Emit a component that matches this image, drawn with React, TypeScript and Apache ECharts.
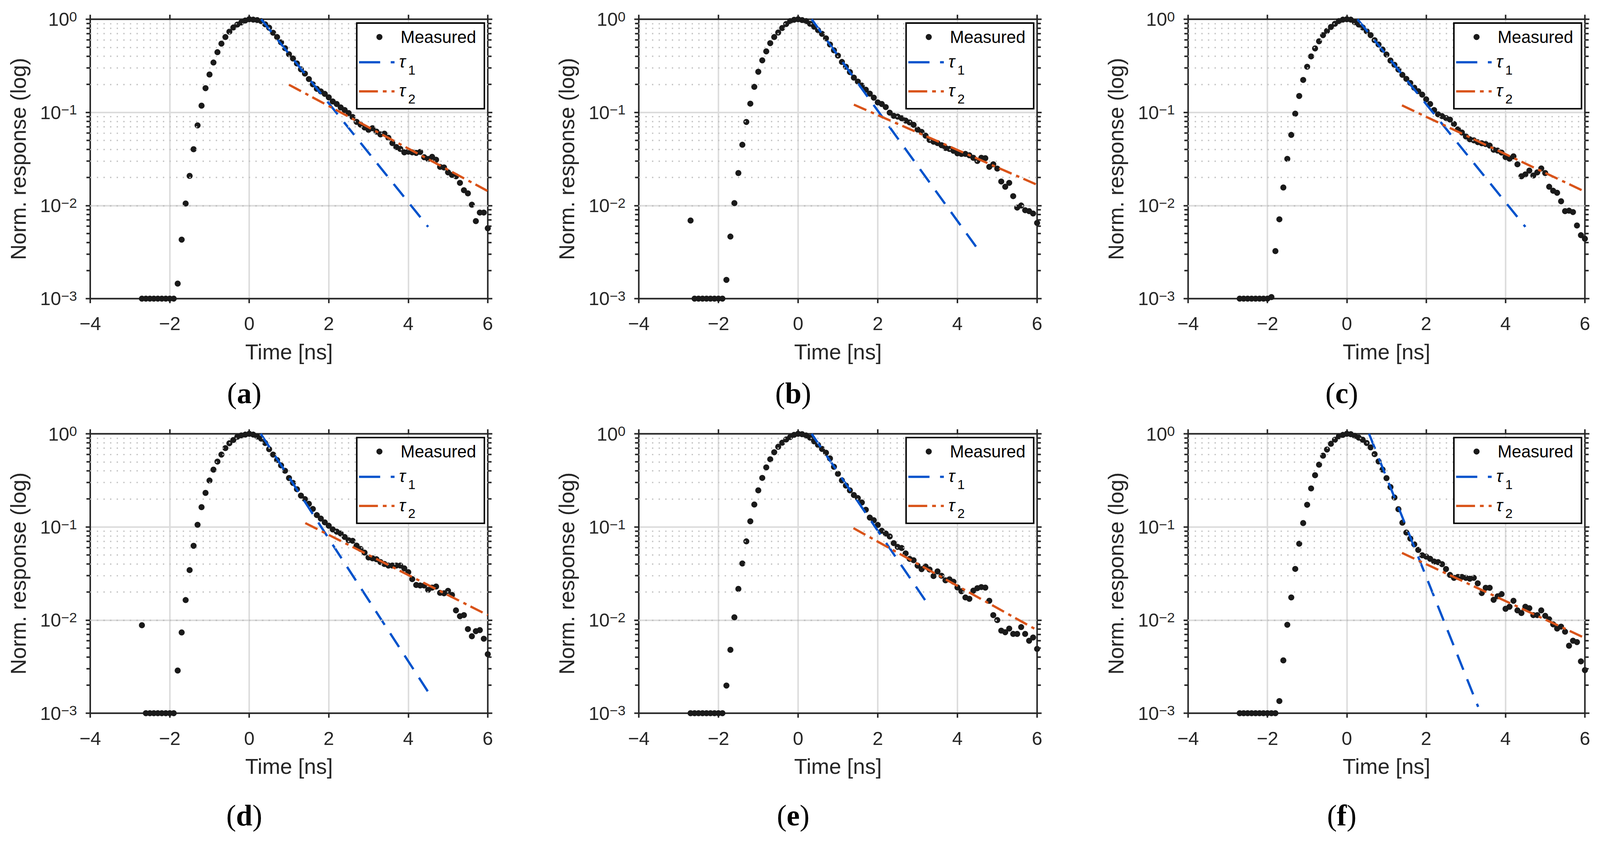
import React, { useEffect, useRef } from "react";
import * as echarts from "echarts";

// ---------- data ----------
const TIME = [-2.7,-2.6,-2.5,-2.4,-2.3,-2.2,-2.1,-2.0,-1.9,-1.8,-1.7,-1.6,-1.5,-1.4,-1.3,-1.2,-1.1,-1.0,-0.9,-0.8,-0.7,-0.6,-0.5,-0.4,-0.3,-0.2,-0.1,0.0,0.1,0.2,0.3,0.4,0.5,0.6,0.7,0.8,0.9,1.0,1.1,1.2,1.3,1.4,1.5,1.6,1.7,1.8,1.9,2.0,2.1,2.2,2.3,2.4,2.5,2.6,2.7,2.8,2.9,3.0,3.1,3.2,3.3,3.4,3.5,3.6,3.7,3.8,3.9,4.0,4.1,4.2,4.3,4.4,4.5,4.6,4.7,4.8,4.9,5.0,5.1,5.2,5.3,5.4,5.5,5.6,5.7,5.8,5.9,6.0];

const MEAS_A = [0.001,0.001,0.001,0.001,0.001,0.001,0.001,0.001,0.001,
  0.00145,0.0043,0.0105,0.0208,0.0402,0.0725,0.118,0.182,0.255,0.343,
  0.443,0.547,0.644,0.735,0.816,0.877,0.924,0.97,
  1.0,
  0.99,0.98,0.955,0.883,0.811,0.716,0.644,0.565,0.489,0.421,
  0.379,0.335,0.290,0.261,0.228,0.200,0.179,0.168,0.158,0.145,
  0.131,0.123,0.113,0.106,0.0983,0.0892,0.0791,0.0739,0.0689,0.0650,
  0.0676,0.0621,0.0580,0.0591,0.0534,0.0468,0.0424,0.0405,0.0372,0.0378,
  0.0372,0.0367,0.0376,0.0330,0.0316,0.0333,0.0310,0.0260,0.0256,0.0227,
  0.0213,0.0206,0.0175,0.0146,0.0135,0.0102,0.0068,0.0084,0.0084,0.0057];

const MEAS_B = [0.0069,0.001,0.001,0.001,0.001,0.001,0.001,0.001,0.001,
  0.00159,0.00464,0.0106,0.0223,0.0449,0.0789,0.124,0.188,0.273,0.362,
  0.452,0.554,0.644,0.720,0.805,0.889,0.955,0.987,
  1.0,
  0.98,0.955,0.894,0.832,0.764,0.697,0.624,0.536,0.464,0.407,
  0.348,0.309,0.271,0.236,0.214,0.194,0.175,0.159,0.144,0.128,
  0.123,0.114,0.0993,0.0918,0.0900,0.0865,0.0816,0.0780,0.0735,0.0654,
  0.0617,0.0562,0.0506,0.0484,0.0468,0.0444,0.0415,0.0405,0.0387,0.0363,
  0.0358,0.0358,0.0346,0.0325,0.0301,0.0325,0.0322,0.0260,0.0277,0.0249,
  0.0181,0.0159,0.0175,0.0126,0.0095,0.0100,0.0089,0.0087,0.0082,0.0065];

const MEAS_C = [0.001,0.001,0.001,0.001,0.001,0.001,0.001,0.001,0.00104,
  0.00324,0.00711,0.0156,0.0317,0.0573,0.0968,0.150,0.223,0.309,0.399,
  0.486,0.580,0.675,0.749,0.827,0.894,0.955,0.99,
  1.0,
  0.99,0.93,0.877,0.816,0.744,0.675,0.596,0.536,0.473,0.418,
  0.360,0.324,0.288,0.253,0.229,0.207,0.184,0.169,0.155,0.138,
  0.123,0.106,0.0953,0.0911,0.0870,0.0837,0.0750,0.0657,0.0608,0.0552,
  0.0514,0.0501,0.0479,0.0466,0.0457,0.0440,0.0397,0.0389,0.0370,0.0331,
  0.0318,0.0337,0.0277,0.0206,0.0216,0.0237,0.0210,0.0227,0.0250,0.0223,
  0.0159,0.0144,0.0137,0.0111,0.0087,0.0088,0.0085,0.0061,0.0048,0.0044];

const MEAS_D = [0.0088,0.001,0.001,0.001,0.001,0.001,0.001,0.001,0.001,
  0.00287,0.00736,0.0164,0.0344,0.0627,0.1055,0.163,0.232,0.315,0.412,
  0.503,0.598,0.702,0.792,0.858,0.929,0.961,0.98,
  1.0,
  0.98,0.935,0.887,0.797,0.684,0.598,0.523,0.458,0.401,0.335,
  0.297,0.254,0.217,0.199,0.177,0.156,0.134,0.123,0.112,0.103,
  0.094,0.089,0.085,0.078,0.072,0.071,0.063,0.058,0.053,0.047,
  0.046,0.045,0.042,0.040,0.0385,0.0385,0.0385,0.0385,0.0359,0.0327,
  0.0275,0.0238,0.0235,0.0235,0.0211,0.0223,0.0229,0.0196,0.0194,0.0206,
  0.0186,0.0127,0.0110,0.0113,0.0080,0.0067,0.0076,0.0078,0.0063,0.0043];

const MEAS_E = [0.001,0.001,0.001,0.001,0.001,0.001,0.001,0.001,0.001,
  0.00198,0.00479,0.0107,0.0216,0.0405,0.070,0.115,0.174,0.247,0.336,
  0.436,0.533,0.634,0.725,0.802,0.869,0.923,0.975,
  1.0,
  0.99,0.96,0.91,0.83,0.760,0.688,0.626,0.544,0.442,0.372,
  0.316,0.278,0.247,0.220,0.204,0.183,0.153,0.126,0.118,0.105,
  0.091,0.085,0.079,0.067,0.061,0.0594,0.052,0.0454,0.0439,0.0384,
  0.0352,0.0376,0.0349,0.0297,0.0333,0.0299,0.0267,0.0274,0.0258,0.0224,
  0.0204,0.0175,0.0169,0.0207,0.0220,0.0226,0.0223,0.0161,0.0113,0.0100,
  0.0077,0.0074,0.0081,0.0071,0.0071,0.0084,0.0071,0.0060,0.0065,0.0049];

const MEAS_F = [0.001,0.001,0.001,0.001,0.001,0.001,0.001,0.001,0.001,0.001,
  0.00135,0.00369,0.0089,0.0175,0.0354,0.066,0.110,0.173,0.259,
  0.359,0.466,0.582,0.678,0.781,0.863,0.94,0.973,
  1.0,
  0.99,0.95,0.91,0.863,0.797,0.715,0.605,0.505,0.413,0.334,
  0.268,0.207,0.155,0.111,0.087,0.075,0.065,0.0566,0.0496,0.048,
  0.0455,0.0425,0.0419,0.0398,0.0353,0.0305,0.0284,0.029,0.029,0.0284,
  0.0278,0.0284,0.0248,0.0195,0.0222,0.0222,0.0165,0.0180,0.0190,0.0132,
  0.0139,0.0161,0.0127,0.0119,0.0139,0.0134,0.0113,0.0113,0.0127,0.0111,
  0.0102,0.0090,0.0081,0.0085,0.0075,0.0053,0.0060,0.0058,0.0036,0.0029];

// fitted exponential decays: [time, value] end points
const TAU1_A = [[0.3, 1.0], [4.5, 0.0059]];
const TAU2_A = [[1.0, 0.198], [6.0, 0.0143]];
const TAU1_B = [[0.34, 1.0], [4.47, 0.0036]];
const TAU2_B = [[1.4, 0.121], [6.0, 0.0167]];
const TAU1_C = [[0.27, 1.0], [4.5, 0.0059]];
const TAU2_C = [[1.39, 0.119], [5.94, 0.0145]];
const TAU1_D = [[0.29, 1.0], [4.49, 0.00172]];
const TAU2_D = [[1.41, 0.110], [6.0, 0.0113]];
const TAU1_E = [[0.34, 1.0], [3.2, 0.0161]];
const TAU2_E = [[1.39, 0.097], [5.93, 0.0081]];
const TAU1_F = [[0.56, 1.0], [3.31, 0.00117]];
const TAU2_F = [[1.39, 0.0526], [5.94, 0.0066]];

const PANEL_LETTERS = ["a", "b", "c", "d", "e", "f"];
const MEAS = [MEAS_A, MEAS_B, MEAS_C, MEAS_D, MEAS_E, MEAS_F];
const TAU1 = [TAU1_A, TAU1_B, TAU1_C, TAU1_D, TAU1_E, TAU1_F];
const TAU2 = [TAU2_A, TAU2_B, TAU2_C, TAU2_D, TAU2_E, TAU2_F];
const MINOR_Y = [0.002,0.003,0.004,0.005,0.006,0.007,0.008,0.009,
  0.02,0.03,0.04,0.05,0.06,0.07,0.08,0.09,
  0.2,0.3,0.4,0.5,0.6,0.7,0.8,0.9];
const X_MIN = -4, X_MAX = 6, X_STEP = 2;
const Y_MIN = 0.001, Y_MAX = 1;
const SERIES_NAMES = ["Measured", "τ1", "τ2"];
const LEGEND_LABELS = ["Measured", "τ", "τ"];
const LEGEND_SUBS = ["", "1", "2"];

// ---------- layout ----------
const W = 4238, H = 2222;
const COL_LEFT = [239, 1692, 3147];
const COL_WIDTH = [1053, 1055, 1051];
const ROW_TOP = [51, 1149];
const PLOT_H = 740;
const LABEL_X = [647, 2101, 3554];
const LABEL_Y = [1041, 2160];

const SANS = "'Liberation Sans', Arial, Helvetica, sans-serif";
const SERIF = "'Liberation Serif', 'Times New Roman', serif";
const AX = "#262626";
const BLUE = "#0052cc";
const ORANGE = "#d95319";
const DOT = "#1a1a1a";
const BLUE_DASH = [43, 27];
const ORANGE_DASH = [36, 13, 9, 12];

function buildOption() {
  const grid: any[] = [];
  const xAxis: any[] = [];
  const yAxis: any[] = [];
  const series: any[] = [];
  const graphic: any[] = [];

  const tickStyle = { show: true, inside: false, length: 12, lineStyle: { color: AX, width: 4 } };
  const lineStyle = { show: true, onZero: false, lineStyle: { color: AX, width: 4 } };

  for (let i = 0; i < 6; i++) {
    const c = i % 3, r = Math.floor(i / 3);
    const left = COL_LEFT[c], width = COL_WIDTH[c], top = ROW_TOP[r];
    grid.push({ left, top, width, height: PLOT_H, containLabel: false });

    xAxis.push({
      type: "value", gridIndex: i, min: X_MIN, max: X_MAX, interval: X_STEP, position: "bottom",
      name: "Time [ns]", nameLocation: "middle", nameGap: 113,
      nameTextStyle: { fontSize: 57, color: AX, fontFamily: SANS },
      axisLine: lineStyle, axisTick: tickStyle,
      axisLabel: {
        margin: 41, fontSize: 50, color: AX, fontFamily: SANS,
        formatter: (v: number) => (v < 0 ? "\u2212" + Math.abs(v) : String(v)),
      },
      splitLine: { show: true, lineStyle: { color: "#dcdcdc", width: 4 } },
    });
    xAxis.push({
      type: "value", gridIndex: i, min: X_MIN, max: X_MAX, interval: X_STEP, position: "top",
      axisLine: lineStyle, axisTick: tickStyle, axisLabel: { show: false }, splitLine: { show: false },
    });

    yAxis.push({
      type: "log", logBase: 10, gridIndex: i, min: Y_MIN, max: Y_MAX, splitNumber: 3, position: "left",
      name: "Norm. response (log)", nameLocation: "middle", nameGap: 162, nameRotate: 90,
      nameTextStyle: { fontSize: 57, color: AX, fontFamily: SANS },
      axisLine: lineStyle, axisTick: tickStyle,
      axisLabel: {
        margin: 35, color: AX, fontFamily: SANS,
        formatter: (v: number) => {
          const e = Math.round(Math.log10(v));
          return "{b|10}{e|" + (e < 0 ? "\u2212" + Math.abs(e) : String(e)) + "}";
        },
        rich: {
          b: { fontSize: 50, lineHeight: 50, padding: [16, 0, 0, 0], verticalAlign: "bottom", color: AX, fontFamily: SANS },
          e: { fontSize: 37, lineHeight: 37, verticalAlign: "top", color: AX, fontFamily: SANS },
        },
      },
      splitLine: { show: true, lineStyle: { color: "#dcdcdc", width: 4 } },
    });
    yAxis.push({
      type: "log", logBase: 10, gridIndex: i, min: Y_MIN, max: Y_MAX, splitNumber: 3, position: "right",
      axisLine: lineStyle, axisTick: tickStyle, axisLabel: { show: false }, splitLine: { show: false },
    });

    const xi = 2 * i, yi = 2 * i;
    series.push({
      name: "_minorgrid" + i, type: "line", xAxisIndex: xi, yAxisIndex: yi, data: [], z: 1, silent: true,
      markLine: {
        silent: true, symbol: ["none", "none"], label: { show: false }, animation: false,
        lineStyle: { color: "#c3c3c3", width: 3.5, type: [3.5, 14] },
        data: MINOR_Y.map((v) => ({ yAxis: v })),
      },
    });
    series.push({
      name: "_minorL" + i, type: "scatter", xAxisIndex: xi, yAxisIndex: yi, silent: true, clip: false, z: 6,
      symbol: "rect", symbolSize: [10, 4], symbolOffset: [-5, 0], itemStyle: { color: AX, opacity: 1 },
      data: MINOR_Y.map((v) => [X_MIN, v]),
    });
    series.push({
      name: "_minorR" + i, type: "scatter", xAxisIndex: xi, yAxisIndex: yi, silent: true, clip: false, z: 6,
      symbol: "rect", symbolSize: [10, 4], symbolOffset: [5, 0], itemStyle: { color: AX, opacity: 1 },
      data: MINOR_Y.map((v) => [X_MAX, v]),
    });
    series.push({
      name: SERIES_NAMES[0], type: "scatter", xAxisIndex: xi, yAxisIndex: yi, clip: false, z: 3,
      symbol: "circle", symbolSize: 16, itemStyle: { color: DOT, opacity: 1 },
      data: TIME.map((t, k) => [t, MEAS[i][k]]),
    });
    series.push({
      name: SERIES_NAMES[1], type: "line", xAxisIndex: xi, yAxisIndex: yi, z: 4, symbol: "none", showSymbol: false,
      lineStyle: { color: BLUE, width: 6, type: BLUE_DASH }, itemStyle: { color: BLUE },
      data: TAU1[i],
    });
    series.push({
      name: SERIES_NAMES[2], type: "line", xAxisIndex: xi, yAxisIndex: yi, z: 5, symbol: "none", showSymbol: false,
      lineStyle: { color: ORANGE, width: 6, type: ORANGE_DASH }, itemStyle: { color: ORANGE },
      data: TAU2[i],
    });

    // legend box (drawn with graphic elements)
    const bx = left + width - 9 - 338, by = top + 10;
    const rowY = [by + 37, by + 104, by + 181];
    graphic.push({
      type: "rect", z: 20, silent: true,
      shape: { x: bx, y: by, width: 338, height: 227 },
      style: { fill: "#fff", stroke: "#000", lineWidth: 4 },
    });
    graphic.push({
      type: "circle", z: 21, silent: true,
      shape: { cx: bx + 60, cy: rowY[0], r: 8 },
      style: { fill: DOT },
    });
    graphic.push({
      type: "text", z: 21, silent: true, x: bx + 116, y: rowY[0],
      style: { text: LEGEND_LABELS[0], fontSize: 45, fontFamily: SANS, fill: "#000", align: "left", verticalAlign: "middle" },
    });
    graphic.push({
      type: "line", z: 21, silent: true,
      shape: { x1: bx + 6, y1: rowY[1], x2: bx + 100, y2: rowY[1] },
      style: { stroke: BLUE, lineWidth: 6, lineDash: [56, 28] },
    });
    graphic.push({
      type: "line", z: 21, silent: true,
      shape: { x1: bx + 6, y1: rowY[2], x2: bx + 100, y2: rowY[2] },
      style: { stroke: ORANGE, lineWidth: 6, lineDash: [50, 13, 10, 13] },
    });
    for (let k = 1; k < 3; k++) {
      graphic.push({
        type: "text", z: 21, silent: true, x: bx + 112, y: rowY[k] - 2,
        style: { text: LEGEND_LABELS[k], fontSize: 46, fontStyle: "italic", fontFamily: SANS, fill: "#000", align: "left", verticalAlign: "middle" },
      });
      graphic.push({
        type: "text", z: 21, silent: true, x: bx + 136, y: rowY[k] + 20,
        style: { text: LEGEND_SUBS[k], fontSize: 35, fontFamily: SANS, fill: "#000", align: "left", verticalAlign: "middle" },
      });
    }

    graphic.push({
      type: "text", x: LABEL_X[c], y: LABEL_Y[r], silent: true,
      style: {
        text: "{p|(}{b|" + PANEL_LETTERS[i] + "}{p|)}",
        align: "center", verticalAlign: "middle", fill: "#000",
        rich: {
          p: { fontSize: 78, fontFamily: SERIF, fill: "#000" },
          b: { fontSize: 78, fontFamily: SERIF, fontWeight: "bold", fill: "#000" },
        },
      },
    });
  }

  return {
    animation: false,
    backgroundColor: "#ffffff",
    grid, xAxis, yAxis, series, graphic,
  };
}

export default function App() {
  const ref = useRef<HTMLDivElement>(null);
  const vw = typeof window !== "undefined" ? document.documentElement.clientWidth || window.innerWidth : W;
  const vh = typeof window !== "undefined" ? document.documentElement.clientHeight || window.innerHeight : H;
  const s = Math.min(vw / W, vh / H) || 1;
  useEffect(() => {
    if (!ref.current) return;
    const chart = echarts.init(ref.current, null, { renderer: "svg", width: W, height: H });
    chart.setOption(buildOption() as any);
    return () => chart.dispose();
  }, []);
  return (
    <div
      ref={ref}
      style={{
        position: "fixed", left: 0, top: 0, width: W, height: H, background: "#fff",
        transform: `scale(${s})`, transformOrigin: "0 0",
      }}
    />
  );
}
